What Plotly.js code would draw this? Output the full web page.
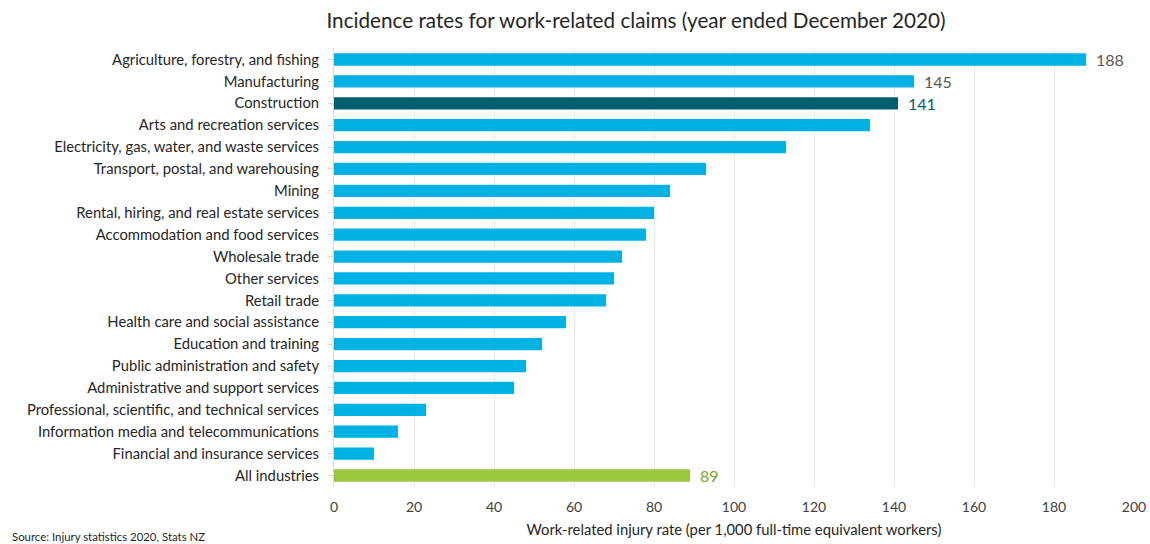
<!DOCTYPE html>
<html>
<head>
<meta charset="utf-8">
<script src="https://cdn.plot.ly/plotly-3.0.1.min.js"></script>
<style>html,body{margin:0;padding:0;background:#fff;}#chart{width:1150px;height:544px;}</style>
</head>
<body>
<div id="chart"></div>
<script>
const categories = [
  "Agriculture, forestry, and fishing",
  "Manufacturing",
  "Construction",
  "Arts and recreation services",
  "Electricity, gas, water, and waste services",
  "Transport, postal, and warehousing",
  "Mining",
  "Rental, hiring, and real estate services",
  "Accommodation and food services",
  "Wholesale trade",
  "Other services",
  "Retail trade",
  "Health care and social assistance",
  "Education and training",
  "Public administration and safety",
  "Administrative and support services",
  "Professional, scientific, and technical services",
  "Information media and telecommunications",
  "Financial and insurance services",
  "All industries"
];
const rates = [188, 145, 141, 134, 113, 93, 84, 80, 78, 72, 70, 68, 58, 52, 48, 45, 23, 16, 10, 89];
const labelledCategories = ["Agriculture, forestry, and fishing", "Manufacturing", "Construction", "All industries"];
const xTickValues = [0, 20, 40, 60, 80, 100, 120, 140, 160, 180, 200];

const BLUE = "#00B2E3", TEAL = "#005F6F", GREEN = "#9AC73C", GREY = "#595959";
const barColors = categories.map(c => c === "Construction" ? TEAL : (c === "All industries" ? GREEN : BLUE));
const labelColor = c => c === "Construction" ? TEAL : (c === "All industries" ? "#7BA532" : GREY);

const FONT = "Lato, 'Open Sans', sans-serif";

const valueLabels = categories
  .map((c, i) => ({c, v: rates[i]}))
  .filter(d => labelledCategories.includes(d.c))
  .map(d => ({
    x: d.v, y: d.c, xref: "x", yref: "y", text: String(d.v),
    xanchor: "left", yanchor: "middle", xshift: 8, showarrow: false,
    font: {family: FONT, size: 16, color: labelColor(d.c)}
  }));

Plotly.newPlot("chart", [{
  type: "bar",
  orientation: "h",
  y: categories,
  x: rates,
  width: 0.56,
  marker: {color: barColors},
  hoverinfo: "x+y"
}], {
  width: 1150, height: 544,
  margin: {l: 334, r: 16, t: 48, b: 57},
  paper_bgcolor: "#fff", plot_bgcolor: "#fff",
  showlegend: false,
  font: {family: FONT, color: "#262626"},
  title: {text: "Incidence rates for work-related claims (year ended December 2020)", x: 0.553, xanchor: "center", y: 0.962, yanchor: "middle", font: {family: FONT, size: 20.7, color: "#262626"}},
  xaxis: {
    range: [0, 200], tickvals: xTickValues, ticktext: xTickValues.map(String),
    showgrid: true, gridcolor: "#e8e8e8", gridwidth: 1, zeroline: false, showline: false,
    ticks: "", ticklabelstandoff: 10,
    tickfont: {family: FONT, size: 14, color: "#404040"},
    title: {text: "Work-related injury rate (per 1,000 full-time equivalent workers)", standoff: 10, font: {family: FONT, size: 14.8, color: "#262626"}},
    fixedrange: true
  },
  yaxis: {
    autorange: "reversed", type: "category",
    showline: true, linecolor: "#d9d9d9", linewidth: 1,
    ticks: "outside", ticklen: 5, tickcolor: "#d9d9d9",
    ticklabelstandoff: 6,
    tickfont: {family: FONT, size: 14.8, color: "#262626"},
    showgrid: false, fixedrange: true
  },
  annotations: valueLabels.concat([{
    text: "Source: Injury statistics 2020, Stats NZ", xref: "paper", yref: "paper",
    x: -324/800, y: -0.112, xanchor: "left", yanchor: "middle", showarrow: false,
    font: {family: FONT, size: 11.4, color: "#262626"}
  }])
}, {displayModeBar: false, staticPlot: true});
</script>
</body>
</html>
